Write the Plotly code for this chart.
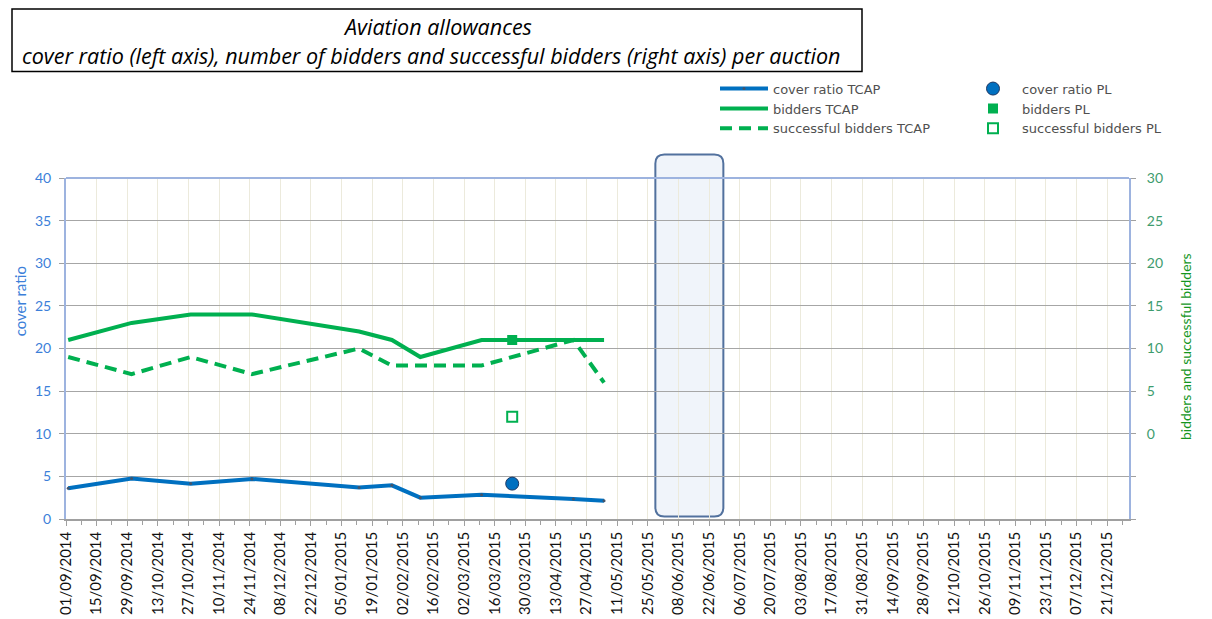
import plotly.graph_objects as go

# ---------------- data ----------------
dates_tcap = ['2014-09-02', '2014-10-01', '2014-10-28', '2014-11-25', '2015-01-13',
              '2015-01-28', '2015-02-10', '2015-03-10', '2015-04-21', '2015-05-05']
cover_tcap = [3.6, 4.75, 4.15, 4.7, 3.7, 3.95, 2.5, 2.85, 2.35, 2.15]
bidders_tcap = [11, 13, 14, 14, 12, 11, 9, 11, 11, 11]
successful_tcap = [9, 7, 9, 7, 10, 8, 8, 8, 11, 6]

dates_pl = ['2015-03-24']
cover_pl = [4.15]
bidders_pl = [11]
successful_pl = [2]

x_range = ['2014-09-01', '2015-12-31']
left_ticks = [0, 5, 10, 15, 20, 25, 30, 35, 40]
right_ticks = [-10, -5, 0, 5, 10, 15, 20, 25, 30]
right_ticktext = ['', '', '0', '5', '10', '15', '20', '25', '30']
block_center = '2015-06-13'

title1 = 'Aviation allowances'
title2 = 'cover ratio (left axis), number of bidders and successful bidders (right axis) per auction'

# ---------------- layout geometry (page pixel coordinates) ----------------
W, H = 1212, 619
OFF = 8                      # page body margin
PL_, PT_ = 66, 178           # plot area left/top on the page
PW, PH = 1063, 343
L = PL_ - OFF
T = PT_ - OFF
R = W - L - PW
B = H - T - PH


def px(xp):
    return (xp - PL_) / PW


def py(yp):
    return (PT_ + PH - yp) / PH


FONT = 'Lato'
TFONT = 'Open Sans'
LEGFONT = 'DejaVu Sans'
BLUE = '#0070C0'
GREEN = '#00B050'
DAY = 86400000

fig = go.Figure()

fig.add_trace(go.Scatter(x=dates_tcap, y=cover_tcap, name='cover ratio TCAP',
                         mode='lines+markers', line=dict(color=BLUE, width=4),
                         marker=dict(size=3, color='#44546A'), legend='legend'))
fig.add_trace(go.Scatter(x=dates_tcap, y=bidders_tcap, name='bidders TCAP', yaxis='y2',
                         mode='lines', line=dict(color=GREEN, width=4), legend='legend'))
fig.add_trace(go.Scatter(x=dates_tcap, y=successful_tcap, name='successful bidders TCAP', yaxis='y2',
                         mode='lines', line=dict(color=GREEN, width=4, dash='12px,7px'), legend='legend'))

fig.add_trace(go.Scatter(x=dates_pl, y=cover_pl, name='cover ratio PL', mode='markers',
                         marker=dict(symbol='circle', size=13, color=BLUE,
                                     line=dict(color='#1F3864', width=1)), legend='legend2'))
fig.add_trace(go.Scatter(x=dates_pl, y=bidders_pl, name='bidders PL', yaxis='y2', mode='markers',
                         marker=dict(symbol='square', size=10, color=GREEN), legend='legend2'))
fig.add_trace(go.Scatter(x=dates_pl, y=successful_pl, name='successful bidders PL', yaxis='y2',
                         mode='markers',
                         marker=dict(symbol='square-open', size=10, color=GREEN, line=dict(width=2)),
                         legend='legend2'))

# rounded highlight block
hw, hh, r = 34, 181, 9
path = (f'M {-hw + r},{-hh} L {hw - r},{-hh} Q {hw},{-hh} {hw},{-hh + r} '
        f'L {hw},{hh - r} Q {hw},{hh} {hw - r},{hh} L {-hw + r},{hh} '
        f'Q {-hw},{hh} {-hw},{hh - r} L {-hw},{-hh + r} Q {-hw},{-hh} {-hw + r},{-hh} Z')
fig.add_shape(type='path', xref='x', yref='paper', xsizemode='pixel', ysizemode='pixel',
              xanchor=block_center, yanchor=py(336.5), path=path,
              fillcolor='#F0F4FA', line=dict(color='#52719E', width=2), layer='below')

# top border of plot
fig.add_shape(type='line', xref='paper', yref='paper', x0=0, x1=1, y0=1, y1=1,
              line=dict(color='#9DB3DF', width=2))
# title box
fig.add_shape(type='rect', xref='paper', yref='paper', x0=px(12), x1=px(862), y0=py(71), y1=py(8),
              line=dict(color='black', width=1.5))
# outer chart border
fig.add_shape(type='rect', xref='paper', yref='paper', x0=px(3), x1=px(1240), y0=py(650), y1=py(3),
              line=dict(color='#A6A6A6', width=1))

fig.add_annotation(text=f'<i>{title1}</i>', xref='paper', yref='paper', x=px(437), y=py(26),
                   showarrow=False, xanchor='center', yanchor='middle',
                   font=dict(family=TFONT, size=21.5, color='black'))
fig.add_annotation(text=f'<i>{title2}</i>', xref='paper', yref='paper', x=px(431), y=py(55),
                   showarrow=False, xanchor='center', yanchor='middle',
                   font=dict(family=TFONT, size=21.5, color='black'))
fig.add_annotation(text='cover ratio', xref='paper', yref='paper', x=px(20), y=py(302),
                   showarrow=False, textangle=-90, xanchor='center', yanchor='middle',
                   font=dict(family=FONT, size=15, color='#3C7FD9'))
fig.add_annotation(text='bidders and successful bidders', xref='paper', yref='paper',
                   x=px(1185), y=py(348), showarrow=False, textangle=-90,
                   xanchor='center', yanchor='middle',
                   font=dict(family=FONT, size=14, color='#14961E'))

fig.update_layout(
    width=W, height=H,
    margin=dict(l=L, r=R, t=T, b=B, pad=0),
    paper_bgcolor='white', plot_bgcolor='white',
    showlegend=True,
    xaxis=dict(type='date', range=x_range, tick0='2014-09-01', dtick=14 * DAY,
               tickformat='%d/%m/%Y', tickangle=-90,
               tickfont=dict(family=FONT, size=15, color='#111111'),
               showgrid=True, gridcolor='#ECEADC', gridwidth=1,
               ticks='outside', ticklen=5, tickcolor='#A0A0A0',
               showline=True, linecolor='#A0A0A0', linewidth=1.5, zeroline=False,
               minor=dict(dtick=7 * DAY, tick0='2014-09-01', ticks='outside', ticklen=4,
                          tickcolor='#A0A0A0', showgrid=False)),
    yaxis=dict(range=[0, 40], tickvals=left_ticks,
               tickfont=dict(family=FONT, size=14, color='#3C7FD9'),
               showgrid=True, gridcolor='#A6A6A6', gridwidth=1,
               showline=True, linecolor='#9DB3DF', linewidth=2, zeroline=False,
               ticks='outside', ticklen=5, tickcolor='#A0A0A0', ticklabelstandoff=5),
    yaxis2=dict(range=[-10, 30], overlaying='y', side='right', tickvals=right_ticks,
                ticktext=right_ticktext,
                tickfont=dict(family=FONT, size=14, color='#3E9C6E'),
                showgrid=False, showline=True, linecolor='#9DB3DF', linewidth=2, zeroline=False,
                ticks='outside', ticklen=5, tickcolor='#A0A0A0', ticklabelstandoff=8),
    legend=dict(x=px(715), y=py(73), xanchor='left', yanchor='top',
                font=dict(family=LEGFONT, size=13, color='#505050'),
                bgcolor='rgba(0,0,0,0)', itemwidth=48, tracegroupgap=0),
    legend2=dict(x=px(964), y=py(73), xanchor='left', yanchor='top',
                 font=dict(family=LEGFONT, size=13, color='#505050'),
                 bgcolor='rgba(0,0,0,0)', itemwidth=48, tracegroupgap=0),
)

fig.write_html('out.html')
